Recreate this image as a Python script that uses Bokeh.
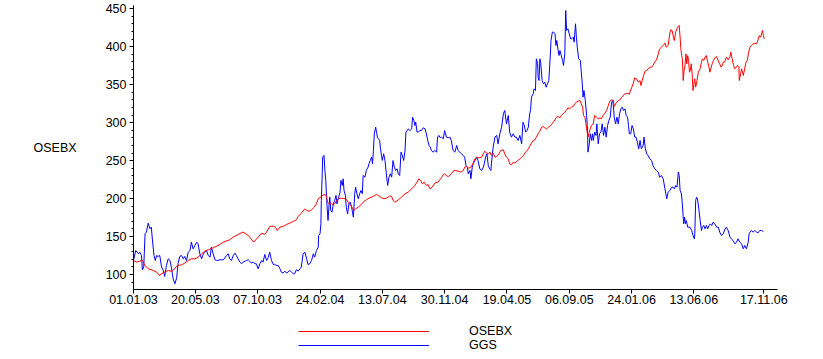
import datetime as dt
from bokeh.plotting import figure
from bokeh.layouts import column
from bokeh.models import FixedTicker, Legend, LegendItem, Range1d
from bokeh.embed import file_html
from bokeh.resources import INLINE

START = dt.date(2003, 1, 1)

tick_labels = ["01.01.03", "20.05.03", "07.10.03", "24.02.04", "13.07.04", "30.11.04",
               "19.04.05", "06.09.05", "24.01.06", "13.06.06", "17.11.06"]
y_ticks = [100, 150, 200, 250, 300, 350, 400, 450]
y_minor = list(range(90, 451, 10))

# GGS (blue) : days since 01.01.03, value
ggs_day = [0, 5, 11, 14, 18, 20, 23, 26, 29, 33, 37, 40, 43, 46, 49, 52, 55, 59, 63, 67, 70, 74, 78, 82, 85, 89, 93, 97, 100, 104, 108, 112, 115, 119, 123, 127, 130, 134, 138, 142, 145, 149, 153, 157, 160, 164, 168, 172, 175, 179, 183, 187, 194, 202, 209, 213, 216, 220, 224, 228, 231, 235, 239, 243, 246, 254, 258, 261, 265, 269,
           273, 276, 280, 284, 288, 291, 295, 299, 303, 306, 310, 314, 317, 321, 325, 329, 332, 336, 340, 344, 347, 351, 355, 359, 362, 366, 370, 374, 377, 381, 385, 389, 392, 396, 400, 404, 407, 411, 415, 416, 419, 421, 422, 424, 425, 428, 430, 432, 434, 437, 439, 441, 443, 446, 449, 452, 455, 457, 460, 464, 466, 469, 471, 473, 476, 478, 481, 484, 487, 490, 492, 494, 497, 499, 502, 505, 508, 511, 514, 516, 520, 523, 527, 529, 532, 535, 537, 539, 541, 544, 546, 548, 550, 553, 555, 557, 559, 562,
           565, 568, 571, 574, 577, 580, 583, 586, 589, 592, 595, 598, 601, 604, 607, 610, 612, 615, 617, 621, 625, 627, 630, 632, 634, 637, 640, 643, 647, 651, 655, 658, 661, 664, 667, 669, 673, 677, 681, 683, 686, 689, 692, 696, 699, 703, 707, 711, 714, 718, 722, 726, 729, 733, 737, 741, 744, 747, 750, 752, 756, 758, 761, 763, 767, 771, 774, 778, 782, 786, 788, 791, 794, 797, 800, 803, 804, 808, 812, 816, 819, 823, 827, 831, 834, 838, 842, 845, 849, 853, 857, 860, 864, 868, 872, 875, 878,
           881, 884, 887, 890, 892, 894, 898, 900, 903, 905, 908, 909, 911, 913, 915, 918, 921, 924, 927, 930, 933, 936, 938, 941, 944, 947, 949, 951, 954, 956, 958, 961, 964, 966, 969, 971, 973, 976, 979, 982, 984, 988, 990, 993, 995, 997, 1000, 1004, 1006, 1008, 1010, 1012, 1015, 1018, 1020, 1021, 1024, 1026, 1029, 1031, 1033, 1036, 1039, 1041, 1044, 1047, 1050, 1053, 1056, 1059, 1062, 1065, 1068, 1071, 1074, 1077, 1080, 1083, 1086, 1089, 1092, 1095, 1098, 1101, 1104, 1107, 1110, 1112, 1114, 1117, 1120, 1123, 1126, 1129, 1132, 1135, 1138, 1141, 1145, 1147, 1150, 1153, 1156, 1160, 1164, 1167,
           1171, 1175, 1179, 1182, 1186, 1190, 1194, 1196, 1198, 1201, 1205, 1209, 1212, 1215, 1218, 1221, 1224, 1226, 1228, 1231, 1233, 1236, 1238, 1240, 1242, 1245, 1250, 1254, 1257, 1260, 1261, 1263, 1265, 1267, 1270, 1273, 1276, 1278, 1281, 1284, 1287, 1290, 1293, 1296, 1299, 1302, 1306, 1310, 1314, 1317, 1321, 1325, 1328, 1332, 1336, 1340, 1343, 1347, 1351, 1355, 1358, 1362, 1366, 1370, 1373, 1377, 1381, 1383, 1385, 1388, 1392, 1396, 1400, 1403, 1407, 1411, 1415]
ggs_val = [118.4, 131.6, 127.2, 129.4, 125.0, 106.1, 109.7, 153.6, 155.8, 167.6, 160.2, 162.4, 142.6, 125.0, 118.4, 125.0, 123.7, 125.0, 109.7, 105.3, 97.4, 111.9, 120.6, 118.4, 109.7, 94.3, 87.7, 95.6, 114.1, 123.7, 125.0, 120.6, 123.7, 118.4, 129.4, 131.6, 142.6, 133.8, 138.2, 142.6, 140.4, 127.2, 120.6, 127.2, 129.4, 131.6, 125.0, 122.8, 136.0, 127.2, 119.3, 118.4, 119.3, 119.3, 125.0, 127.2, 120.6, 118.4, 125.0, 128.1, 125.0, 120.6, 116.2, 114.1, 116.2, 118.4, 119.3, 117.6, 114.9, 116.2,
           114.1, 114.1, 107.5, 114.1, 118.4, 116.2, 126.3, 118.4, 122.8, 129.4, 118.4, 113.2, 113.2, 111.9, 111.9, 107.5, 103.1, 101.8, 104.4, 101.8, 103.1, 105.3, 103.1, 100.9, 100.9, 106.2, 104.4, 107.5, 109.7, 127.2, 129.4, 120.6, 113.2, 114.1, 118.4, 127.2, 122.8, 131.6, 136.0, 151.4, 153.6, 166.7, 197.5, 232.6, 254.6, 256.8, 237.0, 223.8, 197.5, 171.1, 188.7, 201.9, 184.3, 182.1, 193.1, 197.5, 204.1, 193.1, 199.7, 208.4, 223.8, 217.2, 226.0, 210.6, 204.1, 188.7, 179.9, 193.1, 195.3, 188.7, 182.1, 175.5, 206.3, 215.0, 206.3, 199.7, 206.3, 210.6, 206.3, 230.4, 228.2, 237.0, 241.4, 245.8, 250.2, 254.6, 245.8, 263.3, 285.3, 294.1, 287.5, 280.9, 278.7, 276.5, 265.5, 256.8, 250.2, 259.0,
           250.1, 232.6, 217.2, 228.2, 232.6, 228.2, 250.1, 241.4, 237.0, 239.2, 232.6, 230.4, 261.1, 256.7, 250.1, 263.3, 287.5, 289.6, 291.8, 289.6, 291.8, 307.2, 302.8, 296.2, 300.6, 287.5, 287.5, 289.6, 289.6, 293.2, 291.8, 285.3, 276.5, 269.9, 267.7, 263.3, 261.1, 263.3, 261.1, 280.9, 283.1, 280.0, 280.9, 278.7, 289.6, 280.9, 280.0, 280.9, 276.5, 263.3, 261.1, 269.9, 263.3, 261.1, 258.9, 256.7, 254.5, 243.6, 241.4, 232.6, 237.0, 226.0, 241.4, 245.7, 250.1, 254.5, 250.1, 239.2, 237.0, 241.4, 245.7, 254.5, 258.9, 243.6, 239.2, 237.0, 245.7, 267.7, 280.9, 283.1, 272.1, 285.3, 294.0, 311.6, 316.0, 298.4, 309.4, 287.5, 280.9, 285.3, 280.9, 280.9, 276.5, 283.1, 272.1, 300.6, 296.2,
           287.5, 289.6, 294.0, 311.6, 316.0, 333.6, 338.0, 344.5, 342.3, 384.1, 377.5, 359.9, 355.5, 384.1, 377.5, 355.5, 351.1, 353.3, 346.7, 351.1, 355.5, 384.1, 408.2, 419.2, 419.2, 417.0, 401.6, 408.2, 395.0, 388.4, 395.0, 388.4, 381.9, 375.3, 390.6, 447.7, 421.4, 423.6, 417.0, 410.4, 410.4, 412.6, 406.0, 430.2, 412.6, 399.4, 384.1, 381.9, 366.5, 353.3, 333.6, 342.3, 329.2, 309.4, 289.6, 261.1, 272.1, 285.3, 276.5, 285.3, 276.5, 287.5, 283.1, 298.4, 272.1, 285.3, 287.5, 298.4, 283.1, 294.0, 280.9, 296.2, 302.8, 307.2, 327.0, 329.2, 307.2, 298.4, 307.2, 298.4, 311.6, 318.2, 320.4, 316.0, 318.2, 309.4, 307.2, 296.2, 285.3, 285.3, 296.2, 291.8, 280.9, 280.9, 274.3, 265.5, 276.5, 265.5, 269.9, 280.9, 265.5, 258.9, 256.7, 252.3, 250.1, 243.6,
           239.2, 237.0, 234.8, 228.2, 230.4, 226.0, 212.8, 206.2, 199.6, 208.4, 210.6, 215.0, 215.0, 212.8, 217.2, 215.0, 234.8, 230.4, 210.6, 206.2, 193.0, 166.7, 175.5, 166.7, 171.1, 162.3, 162.3, 157.9, 151.3, 146.9, 153.5, 197.4, 201.8, 199.6, 186.5, 171.1, 157.9, 162.3, 164.5, 160.1, 164.5, 160.1, 164.5, 166.7, 164.5, 168.9, 166.7, 162.3, 162.3, 155.7, 151.3, 153.5, 158.8, 162.3, 157.9, 149.1, 146.9, 144.7, 140.4, 142.6, 146.9, 142.6, 140.4, 133.8, 138.2, 133.8, 142.6, 153.5, 155.7, 157.9, 155.7, 157.9, 155.7, 154.8, 157.9, 157.9, 156.6]

# OSEBX (red)
osebx_day = [0, 7, 14, 20, 26, 33, 44, 52, 58, 63, 70, 78, 85, 89, 95, 100, 108, 115, 123, 130, 138, 145, 153, 160, 168, 179, 190, 202, 216, 224, 235, 246, 258, 270,
             280, 288, 295, 299, 306, 314, 319, 323, 329, 336, 344, 351, 359, 366, 370, 377, 385, 389, 394, 400, 406, 411, 415, 422, 428, 433, 436, 439, 443, 446, 452, 456, 460, 466, 471, 475, 479, 482, 487, 491, 495, 499, 505, 511, 516, 523, 531, 538, 546, 550, 557, 565, 572, 576, 580, 583,
             587, 595, 602, 610, 617, 625, 632, 637, 641, 645, 649, 653, 658, 662, 666, 671, 677, 684, 690, 696, 699, 704, 708, 714, 718, 723, 729, 735, 741, 744, 748, 753, 758, 763, 767, 771, 776, 782, 786, 789, 793, 797, 801, 804, 808, 812, 816, 821, 825, 831, 834, 838, 842, 845, 849, 853, 857, 863, 868, 872, 878,
             879, 883, 887, 890, 894, 898, 902, 905, 909, 913, 917, 920, 924, 928, 932, 935, 939, 943, 947, 950, 954, 958, 961, 965, 969, 973, 976, 980, 984, 988, 991, 995, 999, 1003, 1006, 1009, 1011, 1014, 1016, 1018, 1021, 1024, 1026, 1029, 1033, 1036, 1040, 1044, 1048, 1051, 1055, 1059, 1063, 1066, 1070, 1074, 1078, 1080, 1083, 1086, 1089, 1093, 1096, 1100, 1104, 1108, 1111, 1114, 1116, 1119, 1123, 1126, 1130, 1134, 1138, 1140, 1143, 1146, 1149, 1153, 1156, 1160, 1164, 1167,
             1171, 1175, 1179, 1182, 1186, 1190, 1194, 1197, 1201, 1205, 1207, 1210, 1213, 1215, 1218, 1221, 1224, 1226, 1228, 1230, 1231, 1233, 1235, 1237, 1239, 1241, 1243, 1245, 1247, 1249, 1251, 1253, 1255, 1257, 1260, 1261, 1263, 1266, 1269, 1271, 1273, 1276, 1278, 1281, 1284, 1287, 1290, 1293, 1295, 1297, 1300, 1303, 1306, 1310, 1314, 1317, 1320, 1323, 1325, 1328, 1332, 1336, 1340, 1342, 1345, 1348, 1351, 1354, 1357, 1360, 1361, 1364, 1366, 1368, 1370, 1373, 1376, 1379, 1382, 1385, 1388, 1392, 1396, 1400, 1403, 1406, 1409, 1411, 1413, 1415, 1417]
osebx_val = [118.4, 116.2, 117.6, 118.4, 111.9, 107.5, 105.3, 103.1, 98.7, 100.9, 103.1, 105.3, 104.0, 105.3, 109.7, 111.9, 112.7, 114.9, 118.4, 120.6, 120.6, 122.8, 127.2, 130.7, 132.5, 135.1, 138.2, 142.6, 145.7, 149.2, 152.7, 155.8, 151.4, 142.6,
             149.2, 154.4, 152.7, 155.8, 163.2, 163.7, 162.3, 157.9, 162.3, 163.2, 165.9, 167.6, 169.8, 172.0, 176.4, 180.8, 186.5, 184.3, 183.4, 185.2, 188.7, 193.1, 199.7, 202.7, 205.4, 204.1, 195.3, 193.1, 194.0, 192.2, 193.1, 197.5, 199.7, 200.6, 200.1, 199.7, 198.4, 195.3, 190.9, 188.7, 184.3, 186.5, 188.7, 191.8, 195.3, 198.4, 201.0, 202.7, 205.4, 204.1, 201.0, 199.7, 201.9, 203.6, 202.7, 197.5,
             195.2, 198.3, 201.8, 206.2, 208.4, 212.8, 217.2, 221.6, 226.0, 223.8, 219.4, 221.6, 217.2, 218.5, 212.8, 215.0, 220.3, 221.6, 226.0, 231.7, 232.6, 229.5, 229.1, 232.6, 236.1, 237.0, 236.1, 234.8, 237.0, 241.4, 242.2, 240.0, 241.4, 246.6, 252.3, 254.5, 253.6, 254.5, 258.9, 262.4, 259.8, 258.9, 261.1, 256.7, 259.8, 254.5, 255.4, 258.9, 263.3, 264.2, 258.9, 254.5, 252.3, 245.7, 244.4, 247.9, 246.6, 250.1, 252.3, 254.5, 258.0,
             259.8, 262.4, 265.5, 268.6, 273.0, 276.5, 277.4, 280.9, 285.3, 288.8, 294.0, 294.9, 293.2, 291.8, 294.0, 294.9, 297.6, 300.6, 303.7, 307.2, 308.1, 306.3, 309.4, 311.6, 313.8, 316.9, 319.5, 318.2, 320.4, 321.3, 324.8, 327.0, 328.3, 329.2, 324.8, 320.4, 309.4, 307.2, 300.6, 291.8, 280.9, 287.5, 291.8, 296.2, 298.4, 309.4, 307.2, 305.0, 306.3, 305.0, 309.4, 312.5, 316.0, 321.3, 328.3, 330.0, 329.2, 321.3, 324.8, 327.0, 329.2, 330.0, 332.7, 335.8, 338.0, 338.0, 338.8, 337.1, 341.5, 345.9, 352.0, 359.0, 357.7, 353.3, 355.5, 348.9, 355.5, 362.1, 367.8, 368.7, 370.9, 373.1, 373.1, 375.3,
             379.7, 382.7, 390.6, 397.2, 399.4, 401.6, 404.7, 399.4, 401.6, 417.9, 422.3, 421.4, 412.6, 408.2, 419.2, 423.6, 426.7, 428.0, 412.6, 395.0, 390.6, 384.1, 355.5, 368.7, 375.3, 390.6, 377.5, 388.4, 381.9, 366.5, 368.7, 377.5, 364.3, 342.3, 355.5, 357.7, 346.7, 355.5, 366.5, 368.7, 370.9, 379.7, 384.1, 381.9, 386.3, 388.4, 379.7, 373.1, 366.5, 370.9, 377.5, 381.9, 385.4, 387.1, 381.0, 377.5, 373.1, 375.3, 379.7, 379.7, 386.3, 382.7, 387.1, 392.8, 384.1, 375.3, 370.9, 373.1, 375.3, 373.1, 355.5, 364.3, 370.9, 366.5, 362.1, 370.9, 379.7, 381.9, 392.8, 399.4, 401.6, 403.8, 404.7, 403.8, 409.1, 414.8, 412.6, 417.0, 421.4, 414.8, 410.4]

tick_days = [(dt.datetime.strptime(s, "%d.%m.%y").date() - START).days for s in tick_labels]

FONT = "Liberation Sans"
FS = "12.5px"

p = figure(width=823, height=310, output_backend="svg", toolbar_location=None,
           x_range=Range1d(0, 1446.8), y_range=Range1d(80.2, 454.3),
           min_border_left=133, min_border_right=46, min_border_top=5, min_border_bottom=21)
p.outline_line_color = None
p.grid.visible = False

r_ggs = p.line(ggs_day, ggs_val, line_color="#0000FF", line_width=1)
r_osebx = p.line(osebx_day, osebx_val, line_color="#FF0000", line_width=1)

xa = p.xaxis[0]
xa.ticker = FixedTicker(ticks=tick_days, minor_ticks=[])
xa.major_label_overrides = {d: s for d, s in zip(tick_days, tick_labels)}
xa.major_tick_out = 4
xa.major_tick_in = 0
xa.minor_tick_line_color = None
xa.major_label_standoff = 1

ya = p.yaxis[0]
ya.ticker = FixedTicker(ticks=y_ticks, minor_ticks=y_minor)
ya.major_tick_out = 4
ya.major_tick_in = 0
ya.minor_tick_out = 2
ya.minor_tick_in = 0
ya.minor_tick_line_color = "black"
ya.major_label_standoff = 3
ya.axis_label = "OSEBX"
ya.axis_label_orientation = "horizontal"
ya.axis_label_standoff = 26
ya.axis_label_text_font_style = "normal"

for ax in (xa, ya):
    ax.axis_line_color = "black"
    ax.major_tick_line_color = "black"
    ax.major_label_text_font = FONT
    ax.major_label_text_font_size = FS
    ax.major_label_text_color = "black"
    ax.axis_label_text_font = FONT
    ax.axis_label_text_font_size = FS
    ax.axis_label_text_color = "black"

# legend strip below the plot (same series, drawn outside this strip's ranges)
q = figure(width=823, height=49, output_backend="svg", toolbar_location=None,
           x_range=Range1d(-3, -2), y_range=Range1d(-3, -2),
           x_axis_type=None, y_axis_type=None,
           min_border_left=0, min_border_right=0, min_border_top=0, min_border_bottom=0)
q.outline_line_color = None
q.grid.visible = False
k_osebx = q.line(osebx_day, osebx_val, line_color="#FF0000", line_width=1)
k_ggs = q.line(ggs_day, ggs_val, line_color="#0000FF", line_width=1)

legend = Legend(items=[LegendItem(label="OSEBX", renderers=[k_osebx]),
                       LegendItem(label="GGS", renderers=[k_ggs])],
                location=(165, 7), glyph_width=131, glyph_height=14, label_height=14,
                label_standoff=40, spacing=0, padding=0, margin=0,
                border_line_color=None, background_fill_alpha=0,
                label_text_font=FONT, label_text_font_size=FS, label_text_color="black")
q.add_layout(legend)

open("out.html", "w").write(file_html(column(p, q, spacing=0), INLINE))
